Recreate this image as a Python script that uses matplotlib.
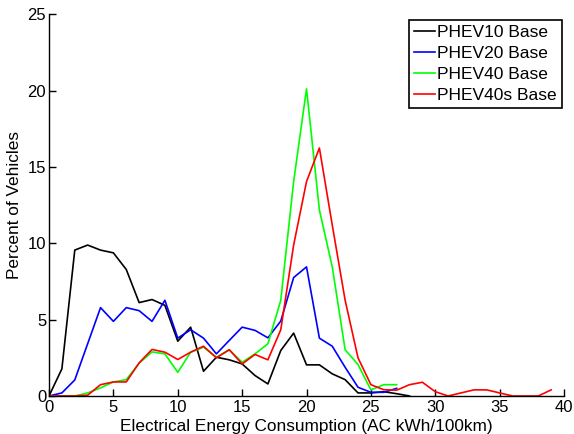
import numpy as np
import matplotlib.pyplot as plt

plt.rcParams['font.family'] = ['Liberation Sans', 'DejaVu Sans']

# percent of vehicles per 1 kWh/100km bin
x_phev10 = list(range(0, 29))
phev10 = [0, 1.78, 9.56, 9.89, 9.56, 9.38, 8.29, 6.12, 6.32, 5.94,
          3.59, 4.51, 1.62, 2.54, 2.37, 2.1, 1.34, 0.79, 2.98, 4.12,
          2.04, 2.04, 1.45, 1.07, 0.2, 0.2, 0.28, 0.15, 0.0]

x_phev20 = list(range(0, 28))
phev20 = [0, 0.2, 1.05, 3.42, 5.79, 4.89, 5.79, 5.59, 4.89, 6.27,
          3.79, 4.34, 3.79, 2.76, 3.64, 4.51, 4.3, 3.81, 4.91, 7.76,
          8.46, 3.79, 3.26, 1.88, 0.57, 0.24, 0.24, 0.5]

x_phev40 = list(range(0, 28))
phev40 = [0, 0, 0, 0.2, 0.53, 0.92, 1.07, 2.15, 2.89, 2.76,
          1.55, 2.87, 3.2, 2.54, 3.03, 2.21, 2.76, 3.42, 6.27, 14.05,
          20.13, 12.19, 8.46, 3.03, 2.06, 0.4, 0.74, 0.74]

x_phev40s = list(range(0, 40))
phev40s = [0, 0, 0, 0.05, 0.74, 0.92, 0.92, 2.17, 3.05, 2.87,
           2.39, 2.87, 3.26, 2.5, 3.03, 2.1, 2.72, 2.37, 4.34, 9.89,
           14.05, 16.25, 11.2, 6.27, 2.5, 0.74, 0.41, 0.38, 0.74, 0.9,
           0.28, 0.0, 0.2, 0.4, 0.4, 0.2, 0, 0, 0, 0.4]

fig = plt.figure(figsize=(5.74, 4.34), dpi=100)
ax = fig.add_axes([0.0854, 0.0876, 0.8972, 0.879])

ax.plot(x_phev10, phev10, color='black', lw=1.2, label='PHEV10 Base')
ax.plot(x_phev20, phev20, color='#0000ff', lw=1.2, label='PHEV20 Base')
ax.plot(x_phev40, phev40, color='#00ff00', lw=1.2, label='PHEV40 Base')
ax.plot(x_phev40s, phev40s, color='#ff0000', lw=1.2, label='PHEV40s Base')

ax.set_xlim(0, 40)
ax.set_ylim(0, 25)
ax.set_xticks(np.arange(0, 41, 5))
ax.set_yticks(np.arange(0, 26, 5))
ax.spines['top'].set_visible(False)
ax.spines['right'].set_visible(False)
for s in ('left', 'bottom'):
    ax.spines[s].set_linewidth(1.0)
ax.tick_params(direction='in', length=5, width=1, labelsize=12)
ax.tick_params(axis='x', pad=3)
ax.tick_params(axis='y', pad=2)

ax.set_xlabel('Electrical Energy Consumption (AC kWh/100km)', fontsize=12.4, labelpad=3)
ax.set_ylabel('Percent of Vehicles', fontsize=12.4, labelpad=4)

# legend box pinned just inside the top-right corner of the axes
leg = ax.legend(loc='upper right', fontsize=12.5, handlelength=1.2, handletextpad=0.15,
                borderaxespad=0, borderpad=0.3, labelspacing=0.33, fancybox=False,
                framealpha=1, bbox_to_anchor=(1 - 2 / 515, 1 - 5.5 / 381))
leg.get_frame().set_edgecolor('black')
leg.get_frame().set_linewidth(1.2)

fig.savefig('out.png', dpi=100)
